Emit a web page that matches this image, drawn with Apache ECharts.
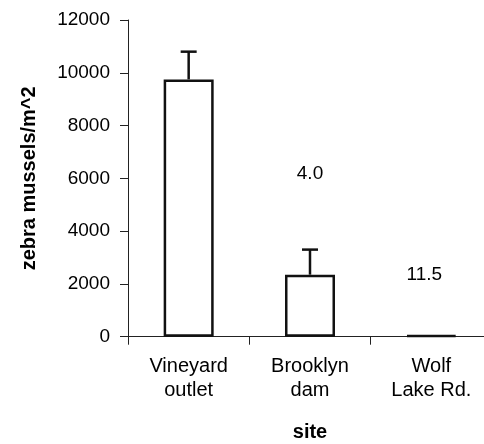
<!DOCTYPE html>
<html>
<head>
<meta charset="utf-8">
<script src="https://cdn.jsdelivr.net/npm/echarts@6/dist/echarts.min.js"></script>
<style>html,body{margin:0;padding:0;background:#fff}#c{width:484px;height:444px}</style>
</head>
<body>
<div id="c"></div>
<script>
var categories = ['Vineyard\noutlet', 'Brooklyn\ndam', 'Wolf\nLake Rd.'];
var density = [9750, 2350, 50];
var errorUp = [1050, 950, 0];
var ratioLabels = ['', '4.0', '11.5'];
var ratioLabelY = [null, 6190, 2340];
var yTicks = {min: 0, max: 12000, interval: 2000};

var chart = echarts.init(document.getElementById('c'), null, {renderer: 'canvas'});
var font = 'Liberation Sans, Arial, sans-serif';
var labelShift = {2: [-7, 0]};

var annot = [];
for (var i = 0; i < categories.length; i++) {
  if (ratioLabels[i]) {
    var item = {value: [i, ratioLabelY[i]], name: ratioLabels[i]};
    if (labelShift[i]) item.label = {offset: labelShift[i]};
    annot.push(item);
  }
}

chart.setOption({
  animation: false,
  backgroundColor: '#fff',
  grid: {left: 128, width: 364, top: 20, height: 316.7, containLabel: false, outerBoundsMode: 'none'},
  xAxis: {
    type: 'category',
    data: categories,
    name: 'site',
    nameLocation: 'middle',
    nameGap: 86,
    nameTextStyle: {fontFamily: font, fontSize: 20, fontWeight: 'bold', color: '#000'},
    axisLine: {lineStyle: {color: '#222', width: 1}},
    axisTick: {show: true, length: 8, alignWithLabel: false, lineStyle: {color: '#222'}},
    axisLabel: {fontFamily: font, fontSize: 20, color: '#000', margin: 18, lineHeight: 24, interval: 0}
  },
  yAxis: {
    type: 'value',
    min: yTicks.min, max: yTicks.max, interval: yTicks.interval,
    name: 'zebra mussels/m^2',
    nameLocation: 'middle',
    nameGap: 89,
    nameTextStyle: {fontFamily: font, fontSize: 20, fontWeight: 'bold', color: '#000'},
    axisLine: {show: true, lineStyle: {color: '#222', width: 1}},
    axisTick: {show: true, length: 8, lineStyle: {color: '#222'}},
    axisLabel: {fontFamily: font, fontSize: 19, color: '#000', margin: 18,
      formatter: function (v) { return String(v); }},
    splitLine: {show: false}
  },
  series: [
    {
      type: 'bar',
      data: density,
      barWidth: 50,
      itemStyle: {color: '#fff', borderColor: '#111', borderWidth: 2.5},
      z: 2
    },
    {
      type: 'custom',
      data: density.map(function (v, i) { return [i, v, v + errorUp[i]]; }),
      renderItem: function (params, api) {
        if (api.value(2) <= api.value(1)) return null;
        var base = api.coord([api.value(0), api.value(1)]);
        var top = api.coord([api.value(0), api.value(2)]);
        var hw = 8;
        return {
          type: 'group',
          children: [
            {type: 'line', shape: {x1: base[0], y1: base[1], x2: top[0], y2: top[1]}, style: {stroke: '#111', lineWidth: 2.5}},
            {type: 'line', shape: {x1: top[0] - hw, y1: top[1], x2: top[0] + hw, y2: top[1]}, style: {stroke: '#111', lineWidth: 2.5}}
          ]
        };
      },
      z: 3
    },
    {
      type: 'scatter',
      data: annot,
      symbolSize: 0,
      itemStyle: {color: '#000', opacity: 1},
      label: {
        show: true, position: 'inside', formatter: function (p) { return p.name; },
        fontFamily: font, fontSize: 19, color: '#000', textBorderWidth: 0
      },
      emphasis: {disabled: true}
    }
  ]
});
</script>
</body>
</html>
